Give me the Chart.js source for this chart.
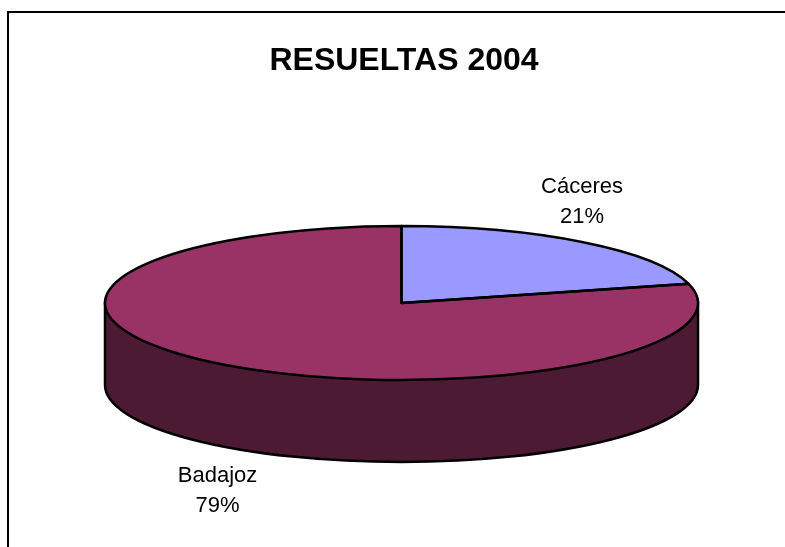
<!DOCTYPE html>
<html>
<head>
<meta charset="utf-8">
<title>RESUELTAS 2004</title>
<script src="https://cdn.jsdelivr.net/npm/chart.js@4/dist/chart.umd.js"></script>
<style>
    html, body { margin: 0; padding: 0; background: #fff; overflow: hidden; }
    canvas { display: block; }
</style>
</head>
<body>
<canvas id="chart" width="785" height="547"></canvas>
<script>
const TITLE = 'RESUELTAS 2004';
const categories = ['Cáceres', 'Badajoz'];
const shares = [21, 79];
const colors = ['#9999FF', '#993366'];
const SIDE_COLOR = '#4D1A33';

// Where the flattened disc lands on the page
const DISC = { cx: 401.5, cy: 303, rx: 296.5, ry: 77, depth: 82 };
// Label anchors relative to the disc centre, same order as categories
const LABEL_OFFSETS = [{ x: 180.5, y: -101 }, { x: -184, y: 188 }];
const LABEL_FONT = '22px "Liberation Sans", Arial, sans-serif';
const LINE_HEIGHT = 30;
const OUTLINE_WIDTH = 2.5;

// Squash the circle Chart.js laid out into the disc ellipse
function applyDiscTransform(ctx, arc) {
    const r = arc.outerRadius;
    ctx.translate(DISC.cx, DISC.cy);
    ctx.scale(DISC.rx / r, DISC.ry / r);
    ctx.translate(-arc.x, -arc.y);
}

const framePlugin = {
    id: 'frame',
    beforeDraw(chart) {
        const { ctx, width, height } = chart;
        ctx.save();
        ctx.fillStyle = '#fff';
        ctx.fillRect(0, 0, width, height);
        ctx.strokeStyle = '#000';
        ctx.lineWidth = 2;
        ctx.beginPath();
        ctx.moveTo(8, height);
        ctx.lineTo(8, 12);
        ctx.lineTo(width, 12);
        ctx.stroke();
        ctx.restore();
    }
};

const pie3dPlugin = {
    id: 'pie3d',
    beforeDatasetsDraw(chart) {
        const ctx = chart.ctx;
        const arc = chart.getDatasetMeta(0).data[0];

        // side wall: lower half of the ellipse pushed down, joined up to the rim
        ctx.save();
        ctx.beginPath();
        ctx.ellipse(DISC.cx, DISC.cy + DISC.depth, DISC.rx, DISC.ry, 0, 0, Math.PI);
        ctx.lineTo(DISC.cx - DISC.rx, DISC.cy);
        ctx.lineTo(DISC.cx + DISC.rx, DISC.cy);
        ctx.closePath();
        ctx.fillStyle = SIDE_COLOR;
        ctx.fill();
        ctx.strokeStyle = '#000';
        ctx.lineWidth = OUTLINE_WIDTH;
        ctx.stroke();
        ctx.restore();

        // top face is the library's own arcs, flattened
        ctx.save();
        applyDiscTransform(ctx, arc);
    },
    afterDatasetsDraw(chart) {
        const ctx = chart.ctx;
        ctx.restore();

        const arcs = chart.getDatasetMeta(0).data;
        arcs.forEach((arc) => {
            ctx.save();
            ctx.save();
            applyDiscTransform(ctx, arc);
            ctx.beginPath();
            ctx.arc(arc.x, arc.y, arc.outerRadius, arc.startAngle, arc.endAngle);
            ctx.lineTo(arc.x, arc.y);
            ctx.closePath();
            // restore first so the stroke width is not squashed with the path
            ctx.restore();
            ctx.strokeStyle = '#000';
            ctx.lineWidth = OUTLINE_WIDTH;
            ctx.lineJoin = 'round';
            ctx.stroke();
            ctx.restore();
        });

        ctx.save();
        ctx.font = LABEL_FONT;
        ctx.fillStyle = '#000';
        ctx.textAlign = 'center';
        ctx.textBaseline = 'middle';
        categories.forEach((name, i) => {
            const x = DISC.cx + LABEL_OFFSETS[i].x;
            const y = DISC.cy + LABEL_OFFSETS[i].y;
            ctx.fillText(name, x, y - LINE_HEIGHT / 2);
            ctx.fillText(shares[i] + '%', x, y + LINE_HEIGHT / 2);
        });
        ctx.restore();
    }
};

new Chart(document.getElementById('chart').getContext('2d'), {
    type: 'pie',
    data: {
        labels: categories,
        datasets: [
            {
                data: shares,
                backgroundColor: colors,
                borderWidth: 0,
                clip: false
            }
        ]
    },
    options: {
        responsive: false,
        animation: false,
        layout: { padding: { left: 23 } },
        plugins: {
            legend: { display: false },
            tooltip: { enabled: false },
            title: {
                display: true,
                text: TITLE,
                color: '#000',
                font: { family: '"Liberation Sans", Arial, sans-serif', size: 32, weight: 'bold' },
                padding: { top: 42, bottom: 10 }
            }
        }
    },
    plugins: [framePlugin, pie3dPlugin]
});
</script>
</body>
</html>
